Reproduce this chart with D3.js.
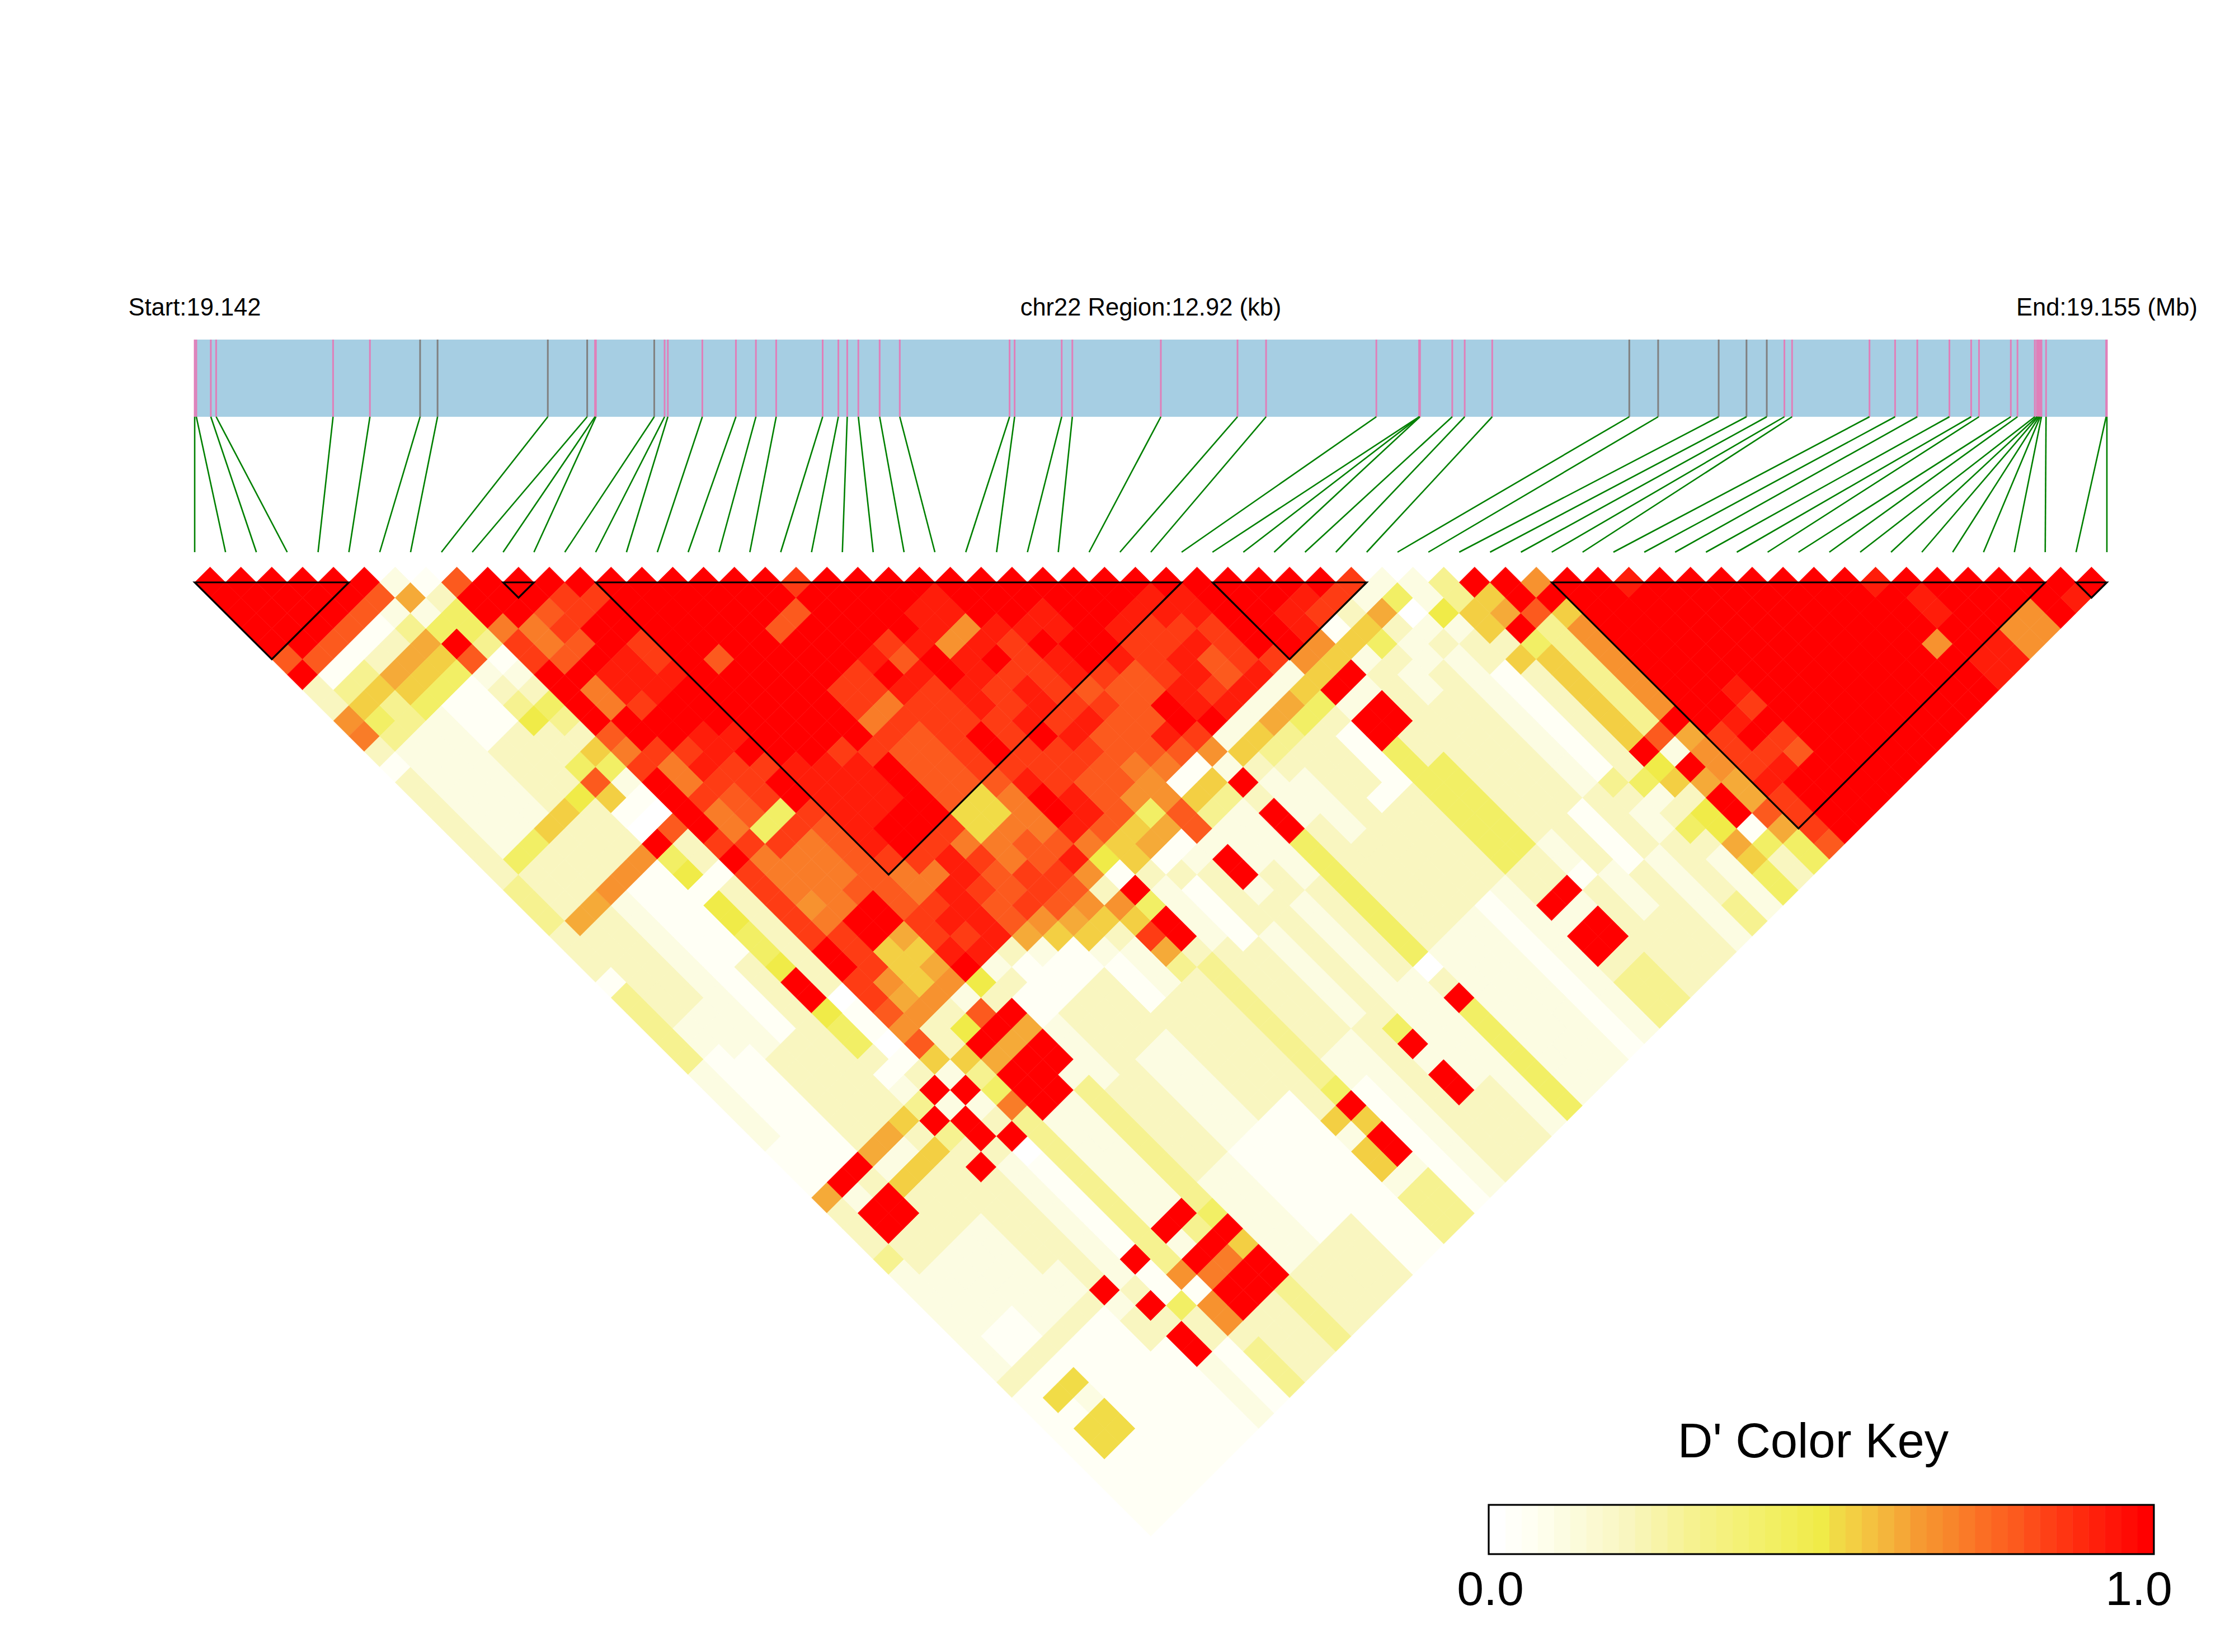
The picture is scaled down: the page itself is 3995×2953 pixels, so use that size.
<!DOCTYPE html>
<html><head><meta charset="utf-8"><script src="https://cdn.jsdelivr.net/npm/d3@7"></script>
<style>html,body{margin:0;background:#fff}svg{display:block}text{font-family:"Liberation Sans",Arial,sans-serif;fill:#000}</style></head>
<body><svg id="c" width="3995" height="2953"></svg><script>
// SNP positions along the region, kb from the start
const snpKb=[0,0.011,0.109,0.145,0.935,1.184,1.523,1.641,2.386,2.652,2.705,2.711,3.105,3.175,3.197,3.430,3.657,3.792,3.929,4.243,4.349,4.409,4.484,4.628,4.764,5.506,5.540,5.858,5.930,6.528,7.046,7.239,7.984,8.273,8.276,8.279,8.497,8.581,8.767,9.693,9.888,10.297,10.485,10.622,10.741,10.793,11.316,11.489,11.639,11.856,12.003,12.056,12.271,12.316,12.433,12.447,12.455,12.463,12.470,12.478,12.509,12.915,12.92];
const graySnps=[6,7,8,9,12,39,40,41,42,43];
const blocks=[[0,5],[10,11],[13,32],[33,38],[44,60],[61,62]];
// D' level codes
const levelCodes={'.':0,a:0.04,b:0.1,c:0.2,d:0.3,e:0.42,f:0.5,o:0.52,g:0.55,h:0.62,i:0.67,j:0.72,k:0.8,l:0.86,m:0.93,n:1};
// one string per SNP i: code + last j the code runs to
const ldRows=[
"n5 k6 n7 c9 i10 j11 c12 a13 c20 d23 c26 a27 d32 b37 a40 h41 c44 d45 b52 c53 a62",
"n6 k7 a8 d9 g10 e11 d12 b19 e20 c23 h24 c30 b32 a40 n41 b42 n44 c46 b50 a52 c53 a54 o55 a56 o58 a62",
"n6 k7 a8 d9 g10 d12 b19 e20 c23 h24 c30 b33 a40 n41 c42 n44 c46 b50 a52 c53 a54 o55 b56 o58 a62",
"n6 k7 a8 c9 h10 g11 e12 b19 g20 c23 i24 b34 c40 h41 b42 g43 c46 b52 c53 a62",
"n6 k7 a8 c9 h10 g11 e12 a15 c19 g20 c23 i24 a34 c40 h41 b42 g43 c46 b52 c53 a62",
"n6 k7 b8 d9 h10 g11 e12 a15 c19 f20 c23 i24 a30 c40 g41 c42 g43 c46 c50 b52 c53 a62",
"b7 h8 b9 e10 n11 k12 b13 c14 d15 f16 c18 e19 k20 g21 a22 .23 n24 e25 f26 a27 f29 e31 f32 n34 f35 e37 c38 a39 b40 d41 n42 d43 c44 n45 c52 n53 b54 c56 a62",
"a8 c9 e11 d12 a13 b14 c15 e16 d17 c18 g19 e20 b21 a22 .23 k24 c26 a27 c34 .35 a37 .38 a39 c40 n41 b42 n44 c45 b52 b53 c54 n55 c56 n58 b62",
"k9 n11 j12 l14 n18 k19 j20 l21 n25 l26 n27 l32 n34 l36 k37 i38 k39 g40 b41 n42 b43 c44 n45 .46 a52 n53 a55 e56 c58 a62",
"n12 j14 k15 n16 j18 n20 l21 j23 l24 j26 l27 j30 i31 j32 l35 i36 h37 i38 c40 g41 d42 e43 j44 d54 i55 a56 i58 c59 d62",
"n12 k13 l14 k15 n16 m18 l19 n21 l22 m23 l24 k26 e27 l28 j32 n34 g37 i38 c39 f40 n41 h42 n45 b52 n53 b54 n55 j56 n58 c62",
"n12 l14 n16 m19 n21 m23 l26 e27 l28 j31 k32 n34 h35 g36 h37 i38 b39 k40 n41 h42 n45 b52 n53 d54 n55 j56 n58 c62",
"n13 l14 n16 l18 m19 n22 m23 n24 l25 n27 l28 k34 l36 m37 n38 f39 c40 n41 h42 n44 b45 d53 e54 n55 g56 n58 d62",
"n25 m31 l32 j34 l35 m36 l37 m38 b39 c40 a42 b46 c52 b58 c62",
"n19 k20 n26 m30 n32 l33 j34 m38 c39 a42 c52 b58 c62",
"n26 l27 m30 n32 l33 m35 l36 k38 h39 b40 a42 c46 b52 a58 c62",
"n27 l28 n32 l33 j34 l35 k37 l38 i39 g40 a42 c46 b52 a58 c62",
"n20 k21 n24 l26 j27 l28 k32 o34 j36 l38 k39 h40 g41 b42 a45 c52 a62",
"n20 k21 n24 l26 j27 l28 k32 o34 j35 k37 l38 k39 i40 g41 c42 b45 c52 a62",
"l20 n24 m25 n26 m27 l32 k33 j36 k37 m38 i39 c40 i41 g42 l43 h44 d45 c54 g55 b56 g58 b59 d62",
"n24 l25 k26 m27 l30 n32 l33 m34 n36 m37 j38 f39 a40 n41 e42 n44 c45 d53 e54 n55 g56 n58 b59 d62",
"n25 m26 n28 m30 l35 m37 k38 g40 c41 b45 c52 b54 a62",
"n24 m26 i27 m29 l31 m32 n33 l35 k38 g39 h40 a41 c42 a46 c52 b62",
"n24 m26 i27 m28 n29 l30 m32 l33 m34 l35 k37 i38 e39 h40 a41 b42 c46 b52 c62",
"n27 m28 l32 l33 m34 k36 j37 i39 k41 b42 n44 b45 c53 e54 n55 b56 n58 c62",
"n28 m29 n30 m32 k33 l34 k37 j38 a39 g40 d41 b44 c46 b58 c62",
"n28 m30 n32 l33 k36 m37 k38 a39 g40 d41 b46 c52 b62",
"n32 m33 k35 n37 l38 i39 b40 n41 c42 n44 e52 .53 c54 n55 e62",
"n31 m32 l33 l35 m37 n38 b39 g40 c41 b44 c52 b62",
"n31 m32 l34 m36 l37 m38 b39 g40 d41 c42 b46 c52 b62",
"n31 m33 l34 m35 k37 m38 b39 h40 d41 c45 c52 b62",
"n32 m33 m34 l35 l37 m38 b39 h40 e41 c45 a46 c52 a62",
"n37 l38 b39 g40 e41 c42 a46 c52 b62",
"n38 i39 g40 n41 b42 n44 e52 c54 n55 b56 n58 c59 d62",
"n36 m38 i39 g40 n41 b42 n44 c46 e52 c54 n55 b56 n58 c59 d62",
"n36 m37 l38 a39 g40 b41 c52 b54 a55 c62",
"n37 l38 c39 g40 e41 c42 b44 c52 c55 b58 c62",
"l38 b39 h40 c41 b43 c52 a56 c62",
"b39 e40 .41 b42 c43 b52 c56 b62",
"b41 f42 b43 c45 a52 d53 c54 b56 c60 d62",
"d42 g44 c45 g46 c53 e54 b55 c56 e57 c58 b62",
"n42 g43 h44 n45 e46 g52 n53 f54 g55 c56 f58 h59 g60 e62",
"n44 k45 d52 k53 b54 n55 h56 n58 a59 e60 c62",
"i44 n45 g46 i52 n53 h54 i56 h58 k59 h60 e62",
"n54 l57 m58 l61 k62",
"n54 m55 n56 l57 m58 n62",
"m47 n53 m54 l55 n56 l57 k58 n62",
"n62","n62","n62","n62","n62","n62","n62",
"m55 n58 i59 n62",
"n56 m58 n60 m62",
"n60 m62",
"n60 i62",
"n60 i62",
"n62",
"n61 m62",
"n62"];
const colorStops=[0,0.05,0.1,0.2,0.3,0.4,0.5,0.52,0.55,0.6,0.65,0.7,0.75,0.8,0.85,0.9,0.95,1];
const colorRange=["#ffffff","#fffff3","#fcfce2","#f9f6c0","#f6f290","#f3f06c","#f0eb48","#f1dc47","#f3cf43","#f4b53c","#f69a32","#f8862b","#fb6e24","#fc5a1e","#fe4016","#ff2a0e","#ff1508","#ff0000"];
const legendBands=41;

const svg=d3.select("#c");
const W=3995,H=2953;
svg.append("rect").attr("width",W).attr("height",H).attr("fill","#fff");
const n=snpKb.length;
const xIdx=d3.scaleLinear().domain([0,n-1]).range([348,3766]);
const yDepth=d3.scaleLinear().domain([0,n-1]).range([1041,2746]);
const xKb=d3.scaleLinear().domain([0,12.92]).range([348,3766]);
const col=d3.scaleLinear().domain(colorStops).range(colorRange).interpolate(d3.interpolateRgb);

// expand rows to cells
const cells=[];
ldRows.forEach((row,i)=>{
  let j=i+1;
  row.trim().split(/\s+/).forEach(t=>{
    const code=t[0],end=+t.slice(1);
    for(;j<=end&&j<n;j++)cells.push({i,j,v:levelCodes[code]});
  });
  for(;j<n;j++)cells.push({i,j,v:0});
});
const cellPath=d=>{
  const m=(xIdx(d.i)+xIdx(d.j))/2;
  const hw=(xIdx(1)-xIdx(0))/2;
  const cy=yDepth(d.j-d.i-1);
  const hh=yDepth(1)-yDepth(0);
  return `M${m},${cy-hh}L${m+hw},${cy}L${m},${cy+hh}L${m-hw},${cy}Z`;
};
svg.append("g").selectAll("path").data(cells.filter(d=>d.v>0)).join("path")
  .attr("d",cellPath).attr("fill",d=>col(d.v)).attr("stroke",d=>col(d.v)).attr("stroke-width",0.6);

// blocks
svg.append("g").selectAll("path").data(blocks).join("path")
  .attr("d",([a,b])=>`M${xIdx(a)},${yDepth(0)}L${xIdx(b)},${yDepth(0)}L${xIdx((a+b)/2)},${yDepth(b-a)}Z`)
  .attr("fill","none").attr("stroke","#000").attr("stroke-width",3.2).attr("stroke-linejoin","miter");

// genome bar
const barTop=607,barBot=745,lineBot=987;
svg.append("rect").attr("x",xKb(0)).attr("y",barTop).attr("width",xKb(12.92)-xKb(0)).attr("height",barBot-barTop).attr("fill","#a6cee3");
svg.append("g").selectAll("line").data(snpKb).join("line")
  .attr("x1",d=>xKb(d)).attr("x2",d=>xKb(d)).attr("y1",barTop).attr("y2",barBot)
  .attr("stroke",(d,i)=>graySnps.includes(i)?"#808080":"#e07fb9").attr("stroke-width",3);
svg.append("g").selectAll("line").data(snpKb).join("line")
  .attr("x1",d=>xKb(d)).attr("y1",barBot).attr("x2",(d,i)=>xIdx(i)).attr("y2",lineBot)
  .attr("stroke","#008000").attr("stroke-width",2.6);

// titles
const titles=[["Start:19.142",xIdx(0)],["chr22 Region:12.92 (kb)",xIdx(31)],["End:19.155 (Mb)",xIdx(62)]];
svg.append("g").selectAll("text").data(titles).join("text")
  .attr("x",d=>d[1]).attr("y",564).attr("text-anchor","middle").attr("font-size",43.5).text(d=>d[0]);

// legend
const lx=d3.scaleLinear().domain([0,legendBands]).range([2662,3849]);
const lg=svg.append("g");
lg.selectAll("rect").data(d3.range(legendBands)).join("rect")
  .attr("x",d=>lx(d)).attr("y",2690).attr("width",lx(1)-lx(0)+0.5).attr("height",88)
  .attr("fill",d=>col(d/(legendBands-1)));
lg.append("rect").attr("x",2661).attr("y",2690).attr("width",1189).attr("height",88).attr("fill","none").attr("stroke","#000").attr("stroke-width",3.2);
lg.append("text").attr("x",3241).attr("y",2605).attr("text-anchor","middle").attr("font-size",86.8).text("D' Color Key");
lg.append("text").attr("x",2664).attr("y",2869).attr("text-anchor","middle").attr("font-size",86).text("0.0");
lg.append("text").attr("x",3823).attr("y",2869).attr("text-anchor","middle").attr("font-size",86).text("1.0");
</script></body></html>
